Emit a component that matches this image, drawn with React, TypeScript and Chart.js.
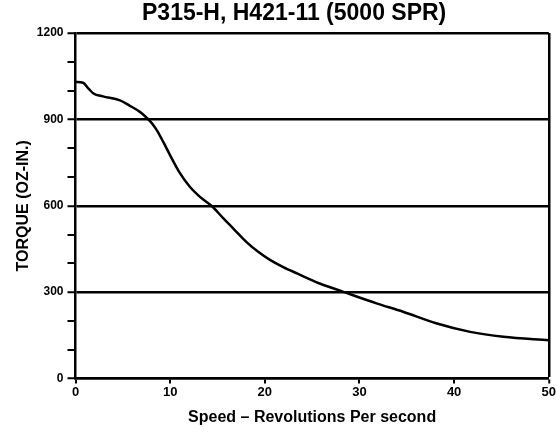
import React, { useEffect, useRef } from "react";
import { Chart, registerables } from "chart.js";

Chart.register(...registerables);

const chartTitle = "P315-H, H421-11 (5000 SPR)";
const xAxisTitle = "Speed \u2013 Revolutions Per second";
const yAxisTitle = "TORQUE (OZ-IN.)";

const speed = [0, 0.8, 1.4, 1.9, 2.9, 4.7, 5.7, 6.8, 7.35, 7.9, 8.25, 8.6, 9.3, 10, 11, 12.1, 13.15, 14.4, 15.6, 16.7, 18.1, 19.3, 20.5, 22, 23.4, 25.8, 28.3, 31.8, 34.6, 38.1, 41.7, 45.2, 50];
const torque = [1030, 1027, 1006, 990, 980, 966, 948, 926, 911, 893, 879, 862, 820, 775, 715, 665, 631, 599, 557, 520, 473, 440, 413, 386, 365, 330, 301, 261, 232, 192, 162, 145, 133];

const xMin = 0;
const xMax = 50;
const xStep = 10;
const yMin = 0;
const yMax = 1200;
const yStep = 100;
const yLabelEvery = 300;

const FONT = '"Liberation Sans", Arial, Helvetica, sans-serif';

export default function App() {
  const ref = useRef<HTMLCanvasElement | null>(null);

  useEffect(() => {
    if (!ref.current) return;
    const titlePlugin = {
      id: "customTitle",
      afterDraw(chart: any) {
        const ctx = chart.ctx;
        const area = chart.chartArea;
        ctx.save();
        ctx.fillStyle = "#000";
        ctx.font = `bold 23px ${FONT}`;
        ctx.textAlign = "center";
        ctx.textBaseline = "alphabetic";
        ctx.fillText(chartTitle, (area.left + area.right) / 2 - 18, 20);
        ctx.restore();
      },
    };

    const chart = new Chart(ref.current, {
      type: "line",
      data: {
        datasets: [
          {
            data: speed.map((s, i) => ({ x: s, y: torque[i] })),
            borderColor: "#000",
            borderWidth: 2.5,
            pointRadius: 0,
            fill: false,
            cubicInterpolationMode: "monotone",
          },
        ],
      },
      options: {
        animation: false,
        responsive: false,
        layout: { padding: { left: 0, right: 8, top: 33, bottom: 0 } },
        plugins: { legend: { display: false }, tooltip: { enabled: false }, title: { display: false } },
        scales: {
          x: {
            type: "linear",
            min: xMin,
            max: xMax,
            afterFit: (s: any) => {
              s.height = 55.5;
            },
            ticks: {
              stepSize: xStep,
              autoSkip: false,
              color: "#000",
              font: { family: FONT, size: 13, weight: "bold" },
              padding: 1,
              maxRotation: 0,
            },
            grid: {
              color: "#000",
              lineWidth: (c: any) => (c.tick && c.tick.value === xMax ? 2.5 : 0),
              tickWidth: 2,
              tickLength: 5,
              tickColor: "#000",
            },
            border: { display: true, color: "#000", width: 2.5 },
            title: {
              display: true,
              text: xAxisTitle,
              color: "#000",
              font: { family: FONT, size: 16, weight: "bold" },
              padding: { top: 0, bottom: 7 },
            },
          },
          y: {
            type: "linear",
            min: yMin,
            max: yMax,
            afterFit: (s: any) => {
              s.width = 75.5;
            },
            ticks: {
              stepSize: yStep,
              autoSkip: false,
              color: "#000",
              font: { family: FONT, size: 12, weight: "bold" },
              padding: 4,
              callback: (v: any) => (Number(v) % yLabelEvery === 0 ? String(v) : ""),
            },
            grid: {
              color: "#000",
              lineWidth: (c: any) => (c.tick && c.tick.value % yLabelEvery === 0 ? 2.5 : 0),
              tickWidth: 2,
              tickLength: 8,
              tickColor: "#000",
            },
            border: { display: true, color: "#000", width: 2.5 },
            title: {
              display: true,
              text: yAxisTitle,
              color: "#000",
              font: { family: FONT, size: 16, weight: "bold" },
              padding: { top: 13.5, bottom: 0 },
            },
          },
        },
      },
      plugins: [titlePlugin],
    } as any);

    return () => chart.destroy();
  }, []);

  return (
    <div style={{ position: "absolute", left: 0, top: 0, width: 557, height: 434, background: "#fff" }}>
      <canvas ref={ref} width={557} height={434} style={{ display: "block" }} />
    </div>
  );
}
